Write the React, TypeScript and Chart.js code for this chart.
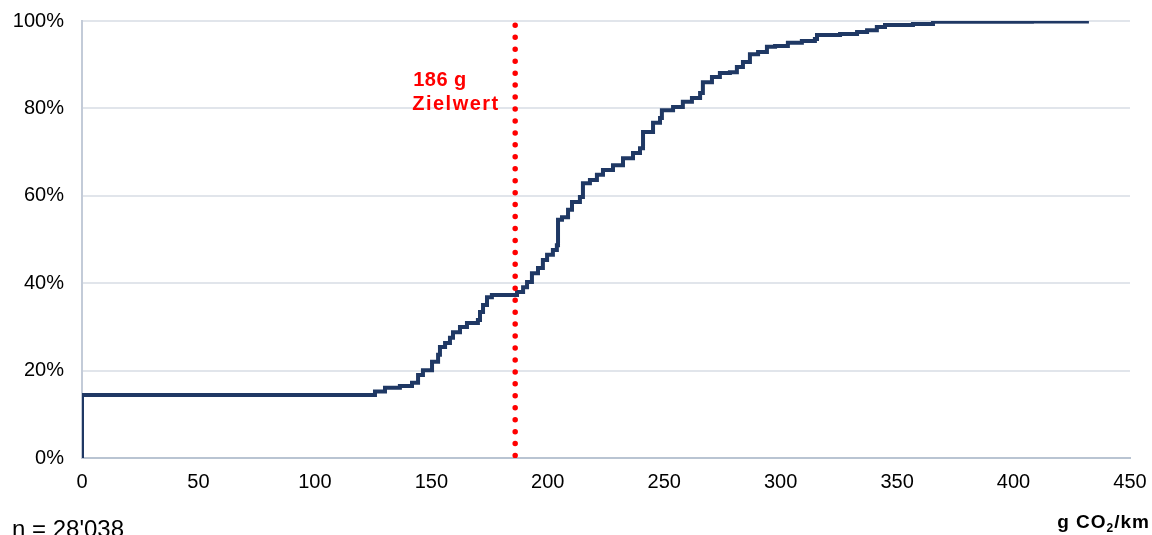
import React, { useEffect, useRef } from "react";
import { Chart, registerables } from "chart.js";

Chart.register(...registerables);

// Cumulative share of vehicles by CO2 emission (g CO2/km)
const emissionValues: number[] = [
  0, 0, 125.8, 130.1, 136.5, 141.7, 144.3, 146.4, 150.3, 152.9, 153.7, 155.9, 158.0, 159.3,
  162.3, 165.3, 170.0, 170.9, 172.2, 173.9, 176.0, 186.8, 189.4, 191.1, 193.2, 195.8, 197.9,
  199.7, 202.2, 203.9, 204.4, 206.1, 208.7, 210.4, 213.8, 215.1, 218.1, 221.1, 223.7, 228.0,
  232.3, 236.6, 239.6, 240.9, 245.2, 248.2, 249.0, 253.8, 258.0, 261.9, 265.4, 266.6, 270.5,
  273.9, 278.2, 281.2, 283.8, 286.8, 290.3, 294.1, 297.6, 303.1, 309.1, 314.7, 315.6, 325.5,
  332.8, 337.1, 341.3, 344.8, 356.8, 365.4, 407.9, 431.5,
];
const cumulativeShare: number[] = [
  0, 14.4, 15.2, 16.1, 16.5, 17.2, 19.0, 20.1, 22.0, 23.6, 25.4, 26.3, 27.5, 28.8,
  30.0, 30.9, 31.6, 33.4, 35.0, 36.8, 37.3, 38.0, 39.1, 40.3, 42.3, 43.5, 45.3,
  46.5, 47.6, 48.7, 54.5, 55.1, 56.8, 58.6, 59.7, 62.9, 63.6, 64.8, 65.9, 67.0,
  68.6, 69.8, 70.9, 74.6, 76.7, 77.8, 79.6, 80.3, 81.5, 82.4, 83.5, 86.0, 87.2,
  88.1, 88.3, 89.5, 90.6, 92.4, 92.9, 94.1, 94.3, 95.0, 95.4, 95.9, 96.8, 97.0,
  97.5, 97.9, 98.6, 99.1, 99.3, 99.8, 99.9, 100,
];
const targetValue = 186;
const targetLabelLines: string[] = ["186 g", "Zielwert"];
const yTicks: number[] = [0, 20, 40, 60, 80, 100];
const xTicks: number[] = [0, 50, 100, 150, 200, 250, 300, 350, 400, 450];
const sampleNote = "n = 28'038";

const FONT = "'Liberation Sans', Arial, sans-serif";

const targetLabelPlugin = {
  id: "targetLabel",
  afterDatasetsDraw(chart: any) {
    const { ctx, scales } = chart;
    const x = scales.x.getPixelForValue(targetValue);
    const y1 = scales.y.getPixelForValue(86.3);
    const y2 = scales.y.getPixelForValue(80.8);
    ctx.save();
    ctx.fillStyle = "#ff0000";
    ctx.font = `bold 20px ${FONT}`;
    ctx.textAlign = "left";
    ctx.textBaseline = "middle";
    (ctx as any).letterSpacing = "0.5px";
    ctx.fillText(targetLabelLines[0], x - 102, y1);
    (ctx as any).letterSpacing = "1.5px";
    ctx.fillText(targetLabelLines[1], x - 103, y2);
    ctx.restore();
  },
};

export default function App() {
  const canvasRef = useRef<HTMLCanvasElement | null>(null);

  useEffect(() => {
    if (!canvasRef.current) return;
    const chart = new Chart(canvasRef.current, {
      type: "line",
      data: {
        datasets: [
          {
            data: emissionValues.map((v, i) => ({ x: v, y: cumulativeShare[i] })),
            borderColor: "#1f3864",
            borderWidth: 4,
            stepped: "before",
            pointRadius: 0,
            fill: false,
            order: 1,
          },
          {
            data: [
              { x: targetValue, y: 99 },
              { x: targetValue, y: 0 },
            ],
            borderColor: "#ff0000",
            borderWidth: 5.5,
            borderDash: [0, 11.95],
            borderCapStyle: "round",
            pointRadius: 0,
            fill: false,
            order: 0,
          },
        ],
      },
      options: {
        responsive: false,
        animation: false,
        layout: { padding: { top: 21, right: 22, left: 0, bottom: 0 } },
        plugins: { legend: { display: false }, tooltip: { enabled: false } },
        scales: {
          x: {
            type: "linear",
            min: 0,
            max: 450,
            afterBuildTicks: (scale: any) => {
              scale.ticks = xTicks.map((v) => ({ value: v }));
            },
            afterFit: (scale: any) => {
              scale.height = 77;
              scale.paddingLeft = 0;
              scale.paddingRight = 0;
            },
            grid: { display: false, drawTicks: false },
            border: { display: true, color: "#b9c4d2", width: 2 },
            ticks: {
              color: "#000",
              font: { family: FONT, size: 20 },
              padding: 12,
              maxRotation: 0,
              autoSkip: false,
            },
          },
          y: {
            type: "linear",
            min: 0,
            max: 100,
            afterBuildTicks: (scale: any) => {
              scale.ticks = yTicks.map((v) => ({ value: v }));
            },
            afterFit: (scale: any) => {
              scale.width = 82;
              scale.paddingTop = 0;
              scale.paddingBottom = 0;
            },
            grid: { color: "#e1e5eb", lineWidth: 2, drawTicks: false },
            border: { display: true, color: "#c3cbd8", width: 2 },
            ticks: {
              color: "#000",
              font: { family: FONT, size: 20 },
              padding: 18,
              callback: (v: any) => `${v}%`,
            },
          },
        },
      },
      plugins: [targetLabelPlugin],
    } as any);
    return () => chart.destroy();
  }, []);

  return (
    <div style={{ position: "fixed", left: 0, top: 0, width: 1152, height: 535, background: "#fff", fontFamily: FONT, overflow: "hidden" }}>
      <canvas ref={canvasRef} width={1152} height={535} style={{ display: "block", width: 1152, height: 535 }} />
      <div style={{ position: "absolute", left: 12, top: 517, fontSize: 24, lineHeight: "24px", color: "#000", whiteSpace: "nowrap" }}>
        {sampleNote}
      </div>
      <div style={{ position: "absolute", right: 2, top: 512, fontSize: 19, lineHeight: "19px", fontWeight: "bold", letterSpacing: "1px", color: "#000", whiteSpace: "nowrap" }}>
        g CO<sub style={{ fontSize: 12, verticalAlign: "-4px", lineHeight: 0 }}>2</sub>/km
      </div>
    </div>
  );
}
